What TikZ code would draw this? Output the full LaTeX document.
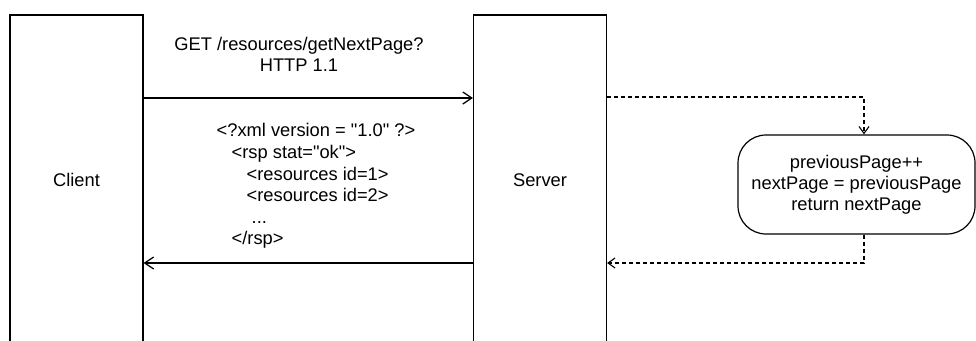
\documentclass[tikz,border=0pt]{standalone}
\usepackage{fontspec}
\setmainfont{Liberation Sans}[Ligatures=TeXOff]
\usetikzlibrary{arrows.meta}
\begin{document}
\begin{tikzpicture}[x=1pt,y=-1pt,
  every node/.style={font=\fontsize{18.3}{21}\selectfont},
  lane/.style={draw,line width=1.2pt,minimum width=133pt,minimum height=330pt,inner sep=0pt},
  procbox/.style={draw,line width=1.2pt,rounded corners=28pt,minimum width=237pt,minimum height=99pt,align=center,inner sep=0pt},
  xmlline/.style={anchor=base west,inner sep=0pt,text height=13pt,text depth=4pt},
  msg/.style={line width=1.2pt,-{Straight Barb[length=9pt,width=12pt,line width=1.2pt]}},
  call/.style={line width=1.1pt,dash pattern=on 4pt off 3pt,-{Straight Barb[length=7pt,width=10pt,line width=1.1pt]}}
]
\useasboundingbox (0,0) rectangle (976,340);

\node[lane] (client) at (76.5,180) {Client};
\node[lane] (server) at (540,180) {Server};
\node[procbox] (proc) at (856.5,184.5) {previousPage++\\nextPage = previousPage\\return nextPage};

% request / response messages
\draw[msg] (client.east |- 0,98) -- (server.west |- 0,98);
\draw[msg] (server.west |- 0,263) -- (client.east |- 0,263);

\node[align=center] (req) at (299,54) {GET /resources/getNextPage?\\HTTP 1.1};

% XML response body, one line per node on a common baseline grid
\node[xmlline] (x1) at (216.5,136.5) {<?xml version = "1.0" ?>};
\node[xmlline] (x2) at (231.5,158) {<rsp stat="ok">};
\node[xmlline] (x3) at (246.5,180) {<resources id=1>};
\node[xmlline] (x4) at (246.5,201.5) {<resources id=2>};
\node[xmlline] (x5) at (251.5,223) {...};
\node[xmlline] (x6) at (231.5,244.5) {</rsp>};

% internal processing on the server
\coordinate (top) at (864,97);
\coordinate (bot) at (864,263);
\draw[call] (server.east |- top) -- (top) -- (top |- proc.north);
\draw[call] (top |- proc.south) -- (bot) -- (server.east |- bot);
\end{tikzpicture}
\end{document}
